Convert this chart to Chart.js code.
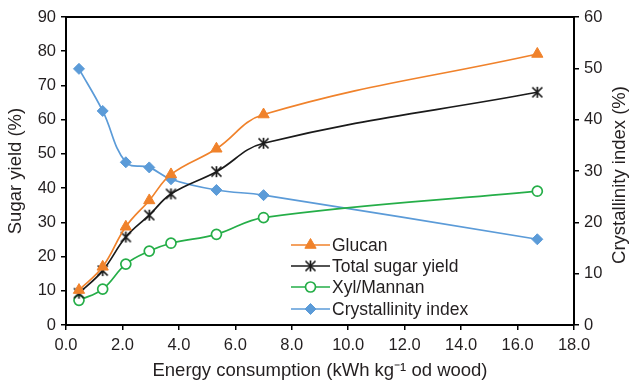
<!DOCTYPE html>
<html>
<head>
<meta charset="utf-8">
<script src="https://cdn.jsdelivr.net/npm/chart.js@4/dist/chart.umd.min.js"></script>
<style>
  html, body { margin: 0; padding: 0; background: #fff; }
  #wrap { width: 631px; height: 382px; position: relative; }
</style>
</head>
<body>
<div id="wrap"><canvas id="c" width="631" height="382"></canvas></div>
<script>
// ---- data ----
const energy = [0.46, 1.3, 2.12, 2.95, 3.72, 5.33, 7.0, 16.7];
const glucan = [10.2, 17.0, 28.7, 36.4, 44.0, 51.5, 61.5, 79.2];
const totalSugar = [9.3, 15.9, 25.7, 32.1, 38.3, 44.8, 53.1, 68.0];
const xylMannan = [7.2, 10.5, 17.8, 21.6, 23.9, 26.5, 31.4, 39.1];
const crystallinity = [49.9, 41.7, 31.7, 30.7, 28.4, 26.3, 25.3, 16.7];
const seriesNames = ['Glucan', 'Total sugar yield', 'Xyl/Mannan', 'Crystallinity index'];
const xTitle = 'Energy consumption (kWh kg\u207B\u00B9 od wood)';
const yTitle = 'Sugar yield (%)';
const y2Title = 'Crystallinity index (%)';

const FONT = '"Liberation Sans", Arial, Helvetica, sans-serif';
const TEXT = '#231f20';
const ORANGE = '#F0822B';
const BLACK = '#1a1a1a';
const GREEN = '#25AE48';
const BLUE = '#5B9BD8';

// asterisk marker (X with vertical bar)
function makeStar(size, color) {
  const cv = document.createElement('canvas');
  cv.width = size; cv.height = size;
  const g = cv.getContext('2d');
  g.strokeStyle = color; g.lineWidth = 1.7;
  const p = 1.5, s = size - 1.5;
  g.beginPath();
  g.moveTo(p, p); g.lineTo(s, s);
  g.moveTo(s, p); g.lineTo(p, s);
  g.moveTo(size / 2, p - 0.5); g.lineTo(size / 2, s + 0.5);
  g.stroke();
  return cv;
}
const starImg = makeStar(13, BLACK);

function pts(arr) { return energy.map((x, i) => ({ x: x, y: arr[i] })); }

const frameAndText = {
  id: 'frameAndText',
  afterDraw(chart) {
    const { ctx, chartArea: a } = chart;
    ctx.save();
    // top border
    ctx.strokeStyle = '#000';
    ctx.lineWidth = 2;
    ctx.beginPath();
    ctx.moveTo(a.left - 1, a.top);
    ctx.lineTo(a.right + 1, a.top);
    ctx.stroke();

    ctx.fillStyle = TEXT;
    ctx.textAlign = 'center';
    ctx.textBaseline = 'middle';
    ctx.font = '18.5px ' + FONT;
    // x title
    ctx.fillText(xTitle, (a.left + a.right) / 2, 371);
    // left title
    ctx.save();
    ctx.translate(16, (a.top + a.bottom) / 2);
    ctx.rotate(-Math.PI / 2);
    ctx.fillText(yTitle, 0, 0);
    ctx.restore();
    // right title
    ctx.save();
    ctx.translate(620, (a.top + a.bottom) / 2 + 4);
    ctx.rotate(-Math.PI / 2);
    ctx.fillText(y2Title, 0, 0);
    ctx.restore();

    // legend
    const lx0 = 291, lx1 = 330, tx = 332;
    const rows = [245, 266, 287, 309];
    chart.data.datasets.forEach((ds, i) => {
      const y = rows[i];
      ctx.strokeStyle = ds.borderColor;
      ctx.lineWidth = ds.borderWidth;
      ctx.beginPath();
      ctx.moveTo(lx0, y); ctx.lineTo(lx1, y);
      ctx.stroke();
      ctx.fillStyle = ds.pointBackgroundColor;
      ctx.strokeStyle = ds.pointBorderColor;
      ctx.lineWidth = ds.pointBorderWidth;
      Chart.helpers.drawPoint(ctx, {
        pointStyle: ds.pointStyle, rotation: 0,
        radius: ds.pointRadius, borderWidth: ds.pointBorderWidth
      }, (lx0 + lx1) / 2, y);
      ctx.fillStyle = TEXT;
      ctx.textAlign = 'left';
      ctx.font = '17.5px ' + FONT;
      ctx.fillText(ds.label, tx, y + 1);
    });
    ctx.restore();
  }
};

const common = { borderWidth: 1.7, tension: 0.4, clip: false };

new Chart(document.getElementById('c'), {
  type: 'line',
  data: {
    datasets: [
      Object.assign({}, common, {
        label: seriesNames[0], data: pts(glucan), yAxisID: 'y',
        borderColor: ORANGE, pointStyle: 'triangle', pointRadius: 6.5,
        pointBackgroundColor: ORANGE, pointBorderColor: ORANGE, pointBorderWidth: 1
      }),
      Object.assign({}, common, {
        label: seriesNames[1], data: pts(totalSugar), yAxisID: 'y',
        borderColor: BLACK, pointStyle: starImg, pointRadius: 6,
        pointBackgroundColor: BLACK, pointBorderColor: BLACK, pointBorderWidth: 1
      }),
      Object.assign({}, common, {
        label: seriesNames[2], data: pts(xylMannan), yAxisID: 'y',
        borderColor: GREEN, pointStyle: 'circle', pointRadius: 5,
        pointBackgroundColor: '#fff', pointBorderColor: GREEN, pointBorderWidth: 1.7
      }),
      Object.assign({}, common, {
        label: seriesNames[3], data: pts(crystallinity), yAxisID: 'y2',
        borderColor: BLUE, pointStyle: 'rectRot', pointRadius: 5.5,
        pointBackgroundColor: BLUE, pointBorderColor: BLUE, pointBorderWidth: 1
      })
    ]
  },
  options: {
    responsive: false,
    animation: false,
    devicePixelRatio: 1,
    layout: { padding: { top: 17, left: 0, right: 0, bottom: 0 } },
    plugins: { legend: { display: false }, tooltip: { enabled: false } },
    scales: {
      x: {
        type: 'linear', min: 0, max: 18,
        afterFit(s) { s.height = 57; },
        ticks: { stepSize: 2, padding: 6, color: TEXT, font: { family: FONT, size: 16.5 },
                 callback: v => v.toFixed(1), maxRotation: 0 },
        grid: { drawOnChartArea: false, drawTicks: true, tickLength: 5, color: '#000', lineWidth: 1.5 },
        border: { color: '#000', width: 2 }
      },
      y: {
        position: 'left', min: 0, max: 90,
        afterFit(s) { s.width = 66; },
        ticks: { stepSize: 10, padding: 5, color: TEXT, font: { family: FONT, size: 16.5 } },
        grid: { drawOnChartArea: false, drawTicks: true, tickLength: 5, color: '#000', lineWidth: 1.5 },
        border: { color: '#000', width: 2 }
      },
      y2: {
        position: 'right', min: 0, max: 60,
        afterFit(s) { s.width = 57; },
        ticks: { stepSize: 10, padding: 5, color: TEXT, font: { family: FONT, size: 16.5 } },
        grid: { drawOnChartArea: false, drawTicks: true, tickLength: 5, color: '#000', lineWidth: 1.5 },
        border: { color: '#000', width: 2 }
      }
    }
  },
  plugins: [frameAndText]
});
</script>
</body>
</html>
